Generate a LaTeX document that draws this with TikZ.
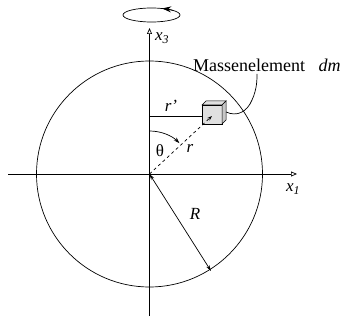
\documentclass[tikz,border=0pt]{standalone}
\usepackage{fontspec}
\setmainfont{Liberation Serif}
\usetikzlibrary{arrows.meta,calc}
\begin{document}
\begin{tikzpicture}[x=1pt,y=-1pt,
  axis/.style={line width=0.7pt,-{Triangle[open,length=6pt,width=5pt,fill=white]}},
  lbl/.style={font=\fontsize{17}{19}\selectfont, inner sep=0pt},
  face/.style={draw,line width=0.5pt,fill=black!12},
  sideface/.style={draw,line width=0.5pt,fill=black!22}]
\useasboundingbox (0,0) rectangle (342,320);
\coordinate (O) at (149.5,174);
\coordinate (L) at (8,174);
\coordinate (Rt) at (297,174);
\coordinate (B) at (149.5,316);
\coordinate (T) at (149.5,28);
\coordinate (E) at (151.5,15);
\coordinate (P) at (212,116);
\coordinate (Pax) at (149.5,116);
\coordinate (Rend) at (211,271);
\coordinate (th0) at (149.5,131);
\coordinate (cubeR) at (226,112);
\coordinate (lead) at (257,74);
% circle
\draw[line width=0.7pt] (O) circle[radius=113];
% axes
\draw[axis] (L) -- (Rt);
\draw[axis] (B) -- (T);
\node[lbl,font=\fontsize{17}{19}\selectfont\itshape] (x3) at (162,38) {x\textsubscript{3}};
\node[lbl,font=\fontsize{17}{19}\selectfont\itshape] (x1) at (293,189) {x\textsubscript{1}};
% rotation
\draw[line width=0.7pt] (E) ellipse[x radius=28.5, y radius=7];
\draw[line width=0.7pt,-{Stealth[length=9pt,width=6pt]}] ($(E)+(-40:28.5 and 7)$) arc[start angle=-40,end angle=-68,x radius=28.5,y radius=7];
% r' line
\draw[line width=0.7pt] (Pax) -- (P);
\node[lbl] (rp) at (171,106) {\itshape r\/\textquoteright};
% cube
\draw[face] (202,105) rectangle (222,124);
\draw[face] (202,105) -- (206,101) -- (226,101) -- (222,105) -- cycle;
\draw[sideface] (222,105) -- (226,101) -- (226,120) -- (222,124) -- cycle;
% r dashed
\draw[line width=0.7pt,dash pattern=on 3pt off 3pt,-{Stealth[length=5pt,width=3.5pt]}] (O) -- (P);
\node[lbl] (rl) at (190,148) {\itshape r};
% theta
\draw[line width=0.7pt,-{Stealth[length=6pt,width=4pt]}] (th0) arc[start angle=-90,end angle=-46,radius=43];
\node[lbl] (th) at (160,151) {θ};
% R
\draw[line width=0.7pt,{Stealth[length=6pt,width=3.5pt]}-{Stealth[length=6pt,width=3.5pt]}] (O) -- (Rend);
\node[lbl] (Rl) at (195,214) {\itshape R};
% leader
\draw[line width=0.7pt] (cubeR) .. controls (237,117) and (247,112) .. (252,100) .. controls (257,89) and (257,80) .. (lead);
\node[lbl,font=\fontsize{18}{20}\selectfont,anchor=base west] (me) at (193,72) {Massenelement\hspace{0.75em}\itshape dm};
\end{tikzpicture}
\end{document}
